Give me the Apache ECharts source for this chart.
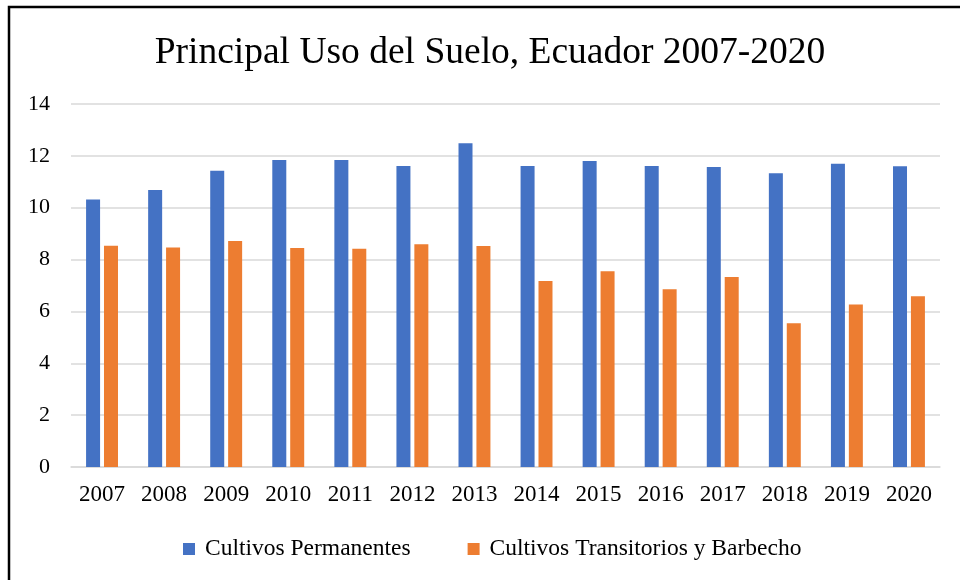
<!DOCTYPE html>
<html>
<head>
<meta charset="utf-8">
<script src="https://cdn.jsdelivr.net/npm/echarts@6/dist/echarts.min.js"></script>
<style>
  html, body { margin: 0; padding: 0; background: #fff; }
  #main { width: 960px; height: 580px; }
</style>
</head>
<body>
<div id="main"></div>
<script>
// datos
var years = ['2007', '2008', '2009', '2010', '2011', '2012', '2013', '2014', '2015', '2016', '2017', '2018', '2019', '2020'];
var permanentes = [10.32, 10.68, 11.43, 11.84, 11.84, 11.61, 12.49, 11.61, 11.80, 11.61, 11.57, 11.33, 11.70, 11.60];
var transitorios = [8.53, 8.47, 8.72, 8.45, 8.42, 8.59, 8.52, 7.17, 7.55, 6.86, 7.33, 5.54, 6.27, 6.59];

var myChart = echarts.init(document.getElementById('main'));
var serif = '"Liberation Serif", "Times New Roman", serif';

var option = {
	backgroundColor: '#fff',
	animation: false,
	title: {
		text: 'Principal Uso del Suelo, Ecuador 2007-2020',
		left: 485,
		textAlign: 'center',
		top: 29,
		textStyle: { fontFamily: serif, fontSize: 37.5, fontWeight: 'normal', color: '#000' }
	},
	legend: {
		top: 532,
		left: 178,
		itemWidth: 12,
		itemHeight: 12,
		itemGap: 57,
		icon: 'rect',
		textStyle: { fontFamily: serif, fontSize: 23.5, color: '#000', padding: [0, 0, 0, 5] },
		data: ['Cultivos Permanentes', 'Cultivos Transitorios y Barbecho']
	},
	grid: { left: 71, right: 20, top: 104, bottom: 113, containLabel: false },
	xAxis: {
		type: 'category',
		data: years,
		axisTick: { show: false },
		axisLine: { lineStyle: { color: '#d9d9d9', width: 1.5 } },
		axisLabel: { fontFamily: serif, fontSize: 23, color: '#000', margin: 16 }
	},
	yAxis: {
		type: 'value',
		min: 0,
		max: 14,
		interval: 2,
		axisLine: { show: false },
		axisTick: { show: false },
		splitLine: { lineStyle: { color: '#d9d9d9', width: 1.5 } },
		axisLabel: { fontFamily: serif, fontSize: 22, color: '#000', margin: 21 }
	},
	series: [
		{
			name: 'Cultivos Permanentes',
			type: 'bar',
			data: permanentes,
			barWidth: 14,
			barGap: '28%',
			itemStyle: { color: '#4472C4' }
		},
		{
			name: 'Cultivos Transitorios y Barbecho',
			type: 'bar',
			data: transitorios,
			barWidth: 14,
			barGap: '28%',
			itemStyle: { color: '#ED7D31' }
		}
	],
	graphic: [{
		type: 'rect',
		shape: { x: 9, y: 7, width: 1000, height: 1000 },
		style: { fill: 'none', stroke: '#000', lineWidth: 2.5 }
	}]
};

myChart.setOption(option);
</script>
</body>
</html>
